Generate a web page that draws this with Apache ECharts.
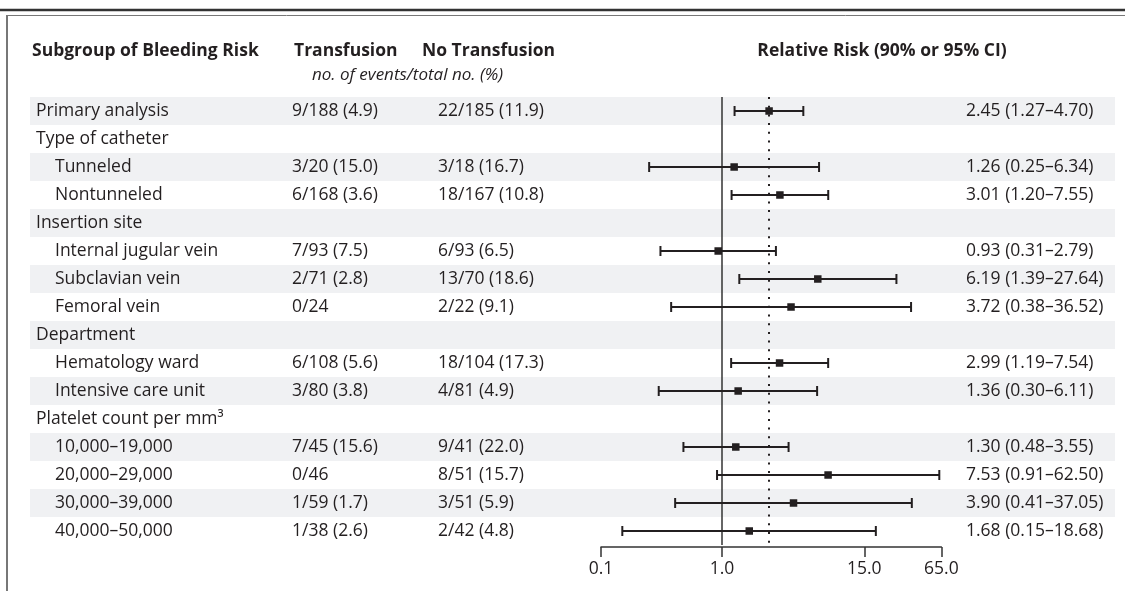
<!DOCTYPE html>
<html><head><meta charset="utf-8">
<script src="https://cdn.jsdelivr.net/npm/echarts@6/dist/echarts.min.js"></script>
<style>html,body{margin:0;padding:0;background:#fff}#c{width:1125px;height:591px}</style>
</head><body><div id="c"></div>
<script>
// ---------------- data ----------------
const rowLabels = ['Primary analysis','Type of catheter','Tunneled','Nontunneled','Insertion site',
  'Internal jugular vein','Subclavian vein','Femoral vein','Department','Hematology ward',
  'Intensive care unit','Platelet count per mm³','10,000–19,000','20,000–29,000','30,000–39,000','40,000–50,000'];
const isSubRow = [false,false,true,true,false,true,true,true,false,true,true,false,true,true,true,true];
const transfusion = ['9/188 (4.9)','','3/20 (15.0)','6/168 (3.6)','','7/93 (7.5)','2/71 (2.8)','0/24','',
  '6/108 (5.6)','3/80 (3.8)','','7/45 (15.6)','0/46','1/59 (1.7)','1/38 (2.6)'];
const noTransfusion = ['22/185 (11.9)','','3/18 (16.7)','18/167 (10.8)','','6/93 (6.5)','13/70 (18.6)','2/22 (9.1)','',
  '18/104 (17.3)','4/81 (4.9)','','9/41 (22.0)','8/51 (15.7)','3/51 (5.9)','2/42 (4.8)'];
const relRisk = [2.45,null,1.26,3.01,null,0.93,6.19,3.72,null,2.99,1.36,null,1.30,7.53,3.90,1.68];
const ciLow   = [1.27,null,0.25,1.20,null,0.31,1.39,0.38,null,1.19,0.30,null,0.48,0.91,0.41,0.15];
const ciHigh  = [4.70,null,6.34,7.55,null,2.79,27.64,36.52,null,7.54,6.11,null,3.55,62.50,37.05,18.68];
const overallRR = 2.45;
const nullRR = 1.0;
const axisTicks = [0.1, 1.0, 15.0, 65.0];
const colHeaders = ['Subgroup of Bleeding Risk','Transfusion','No Transfusion','Relative Risk (90% or 95% CI)'];
const subHeader = 'no. of events/total no. (%)';

// ---------------- chart ----------------
const FONT = '"Open Sans", "Noto Sans", sans-serif';
const FS = 17.5;
const INK = '#231f20';
const L = v => Math.log10(v);
const chart = echarts.init(document.getElementById('c'), null, {renderer: 'canvas'});
const rows = rowLabels.map((_, i) => [i]);
const forestData = [];
relRisk.forEach((v, i) => { if (v != null) forestData.push([L(v), i, L(ciLow[i]), L(ciHigh[i])]); });
const fmt = v => v.toFixed(2);

function tableItem(params, api) {
  const i = api.value(0);
  const y = api.coord([L(axisTicks[0]), i])[1];
  const h = api.size([0, 1])[1];
  const ch = [];
  if (i % 2 === 0) ch.push({type: 'rect', shape: {x: 30, y: y - h / 2, width: 1085, height: h}, style: {fill: '#f0f1f3'}});
  const ts = (x, text, align) => ({type: 'text', x: x, y: y, style: {text: text, fill: INK, font: FS + 'px ' + FONT, align: align || 'left', verticalAlign: 'middle'}});
  ch.push(ts(isSubRow[i] ? 55 : 36, rowLabels[i]));
  if (transfusion[i]) ch.push(ts(292, transfusion[i]));
  if (noTransfusion[i]) ch.push(ts(438, noTransfusion[i]));
  if (relRisk[i] != null) ch.push(ts(966, fmt(relRisk[i]) + ' (' + fmt(ciLow[i]) + '–' + fmt(ciHigh[i]) + ')', 'left'));
  return {type: 'group', children: ch};
}

function forestItem(params, api) {
  const p = api.coord([api.value(0), api.value(1)]);
  const a = api.coord([api.value(2), api.value(1)]);
  const b = api.coord([api.value(3), api.value(1)]);
  const st = {stroke: INK, lineWidth: 2};
  const s = 7.5;
  return {type: 'group', children: [
    {type: 'line', shape: {x1: a[0], y1: p[1], x2: b[0], y2: p[1]}, style: st},
    {type: 'line', shape: {x1: a[0], y1: p[1] - 5, x2: a[0], y2: p[1] + 5}, style: st},
    {type: 'line', shape: {x1: b[0], y1: p[1] - 5, x2: b[0], y2: p[1] + 5}, style: st},
    {type: 'rect', shape: {x: p[0] - s / 2, y: p[1] - s / 2, width: s, height: s}, style: {fill: INK}}
  ]};
}

const hdr = (x, y, text, align) => ({type: 'text', x: x, y: y,
  style: {text: text, fill: INK, font: 'bold ' + FS + 'px ' + FONT, align: align, verticalAlign: 'middle'}});

chart.setOption({
  animation: false,
  backgroundColor: '#fff',
  grid: {left: 601, top: 97, width: 121 * (L(axisTicks[3]) - L(axisTicks[0])), height: 448, containLabel: false},
  xAxis: {
    type: 'value', min: L(axisTicks[0]), max: L(axisTicks[3]), offset: 2,
    splitLine: {show: false},
    axisLine: {show: true, lineStyle: {color: '#333', width: 1.5}},
    axisTick: {show: true, inside: false, length: 10, customValues: axisTicks.map(L), lineStyle: {color: '#333', width: 1.5}},
    axisLabel: {show: true, customValues: axisTicks.map(L), margin: 13, color: INK, fontFamily: FONT, fontSize: FS,
      formatter: v => Math.pow(10, v).toFixed(1)}
  },
  yAxis: {type: 'category', inverse: true, data: rowLabels, show: false},
  series: [
    {type: 'custom', z: 1, clip: false, renderItem: tableItem, data: rows, encode: {y: 0}},
    {type: 'custom', z: 5, clip: false, renderItem: forestItem, data: forestData, encode: {x: [0, 2, 3], y: 1},
      markLine: {silent: true, symbol: 'none', label: {show: false}, animation: false,
        data: [
          {xAxis: L(nullRR), lineStyle: {color: '#333', width: 1.5, type: 'solid'}},
          {xAxis: L(overallRR), lineStyle: {color: INK, width: 2, type: [2, 6.7]}}
        ]}}
  ],
  graphic: [
    {type: 'line', shape: {x1: 0, y1: 10, x2: 1125, y2: 10}, style: {stroke: '#333', lineWidth: 2.5}},
    {type: 'line', shape: {x1: 7, y1: 15.5, x2: 1125, y2: 15.5}, style: {stroke: '#777', lineWidth: 1}},
    {type: 'line', shape: {x1: 7, y1: 15, x2: 7, y2: 591}, style: {stroke: '#777', lineWidth: 2}},
    hdr(32, 51, colHeaders[0], 'left'),
    hdr(294, 51, colHeaders[1], 'left'),
    hdr(422, 51, colHeaders[2], 'left'),
    hdr(882, 51, colHeaders[3], 'center'),
    {type: 'text', x: 312, y: 75, style: {text: subHeader, fill: INK, font: 'italic ' + (FS - 0.5) + 'px ' + FONT, align: 'left', verticalAlign: 'middle'}}
  ]
});
</script></body></html>
